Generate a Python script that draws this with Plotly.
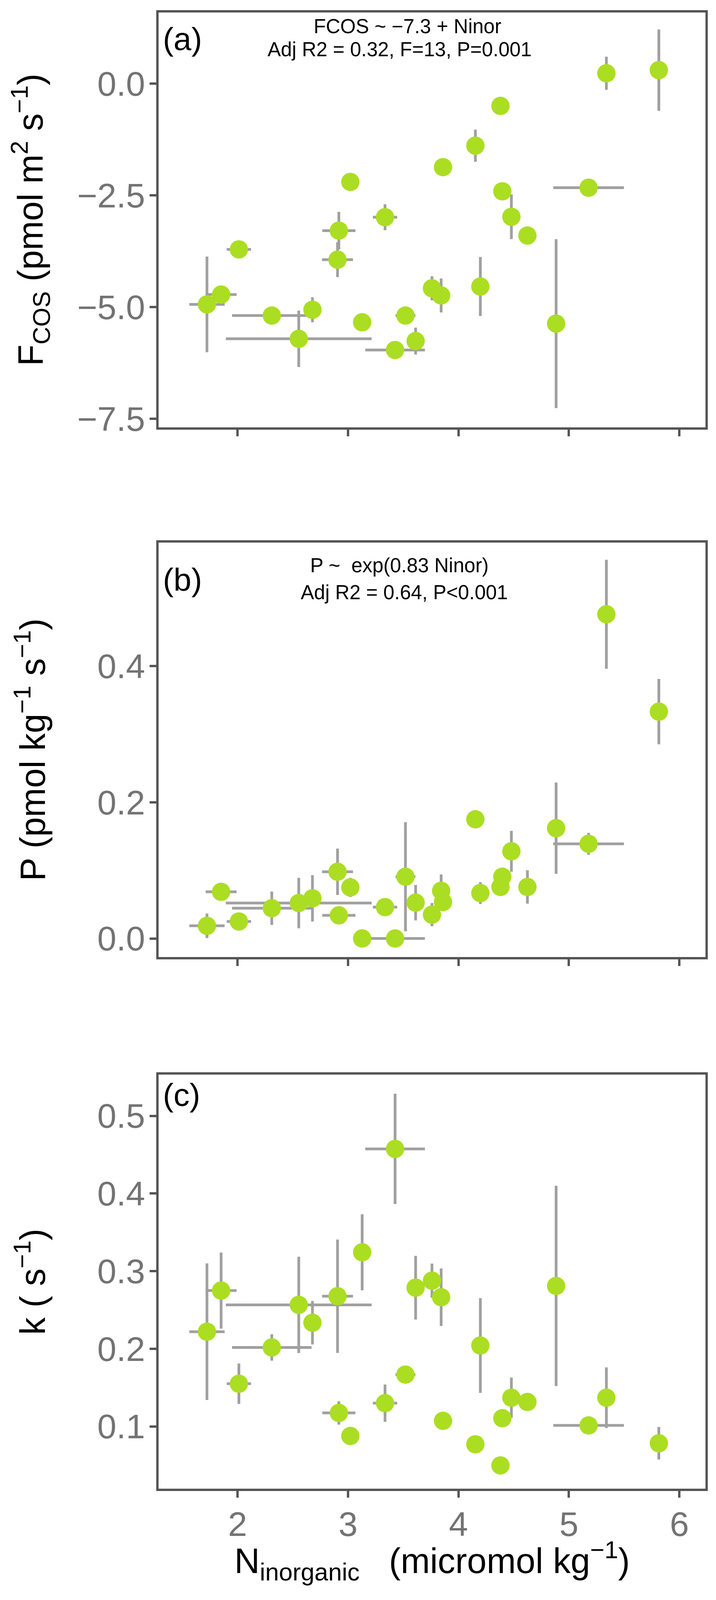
import plotly.graph_objects as go
from plotly.subplots import make_subplots

# the browser only shows 4096 px of the 4600 px page, so the layout is squeezed to fit
W = 1817
H = 4080
SY = 4096 / 4600
OFF = 8  # page body margin

# inorganic N per sample (micromol kg-1) and its error
n_inor = [1.723, 1.851, 2.012, 2.31, 2.554, 2.678, 2.905, 2.917, 3.021, 3.128, 3.335, 3.426, 3.52, 3.612,
          3.76, 3.843, 3.86, 4.153, 4.198, 4.38, 4.397, 4.479, 4.624, 4.884, 5.178, 5.339, 5.814]
n_err = [0.16, 0.14, 0.11, 0.36, 0.66, 0, 0.14, 0.15, 0.03, 0.05, 0.11, 0.27, 0.09, 0,
         0, 0, 0, 0, 0, 0, 0, 0, 0, 0, 0.32, 0, 0]

# (a) FCOS
fcos = [-4.94, -4.72, -3.71, -5.19, -5.71, -5.06, -3.94, -3.29, -2.20, -5.34, -2.99, -5.96, -5.19, -5.76,
        -4.58, -4.74, -1.87, -1.39, -4.54, -0.50, -2.41, -2.98, -3.40, -5.37, -2.33, 0.23, 0.30]
fcos_err = [1.07, 0, 0.1, 0, 0.63, 0.28, 0.39, 0.42, 0, 0.05, 0.29, 0, 0.05, 0.30,
            0.27, 0.38, 0, 0.36, 0.66, 0, 0, 0.5, 0, 1.89, 0, 0.37, 0.91]

# (b) P
prod = [0.0186, 0.0685, 0.025, 0.0444, 0.052, 0.059, 0.098, 0.034, 0.075, 0.0, 0.046, 0.0, 0.0907, 0.0526,
        0.035, 0.070, 0.0535, 0.175, 0.0667, 0.0757, 0.0907, 0.128, 0.0757, 0.162, 0.139, 0.476, 0.333]
prod_err = [0.018, 0, 0, 0.0245, 0.037, 0.034, 0.034, 0, 0.014, 0, 0, 0, 0.080, 0.026,
            0.017, 0.024, 0, 0, 0.016, 0, 0, 0.03, 0.0245, 0.067, 0.016, 0.080, 0.048]

# (c) k
kval = [0.222, 0.275, 0.155, 0.2017, 0.2566, 0.2336, 0.2677, 0.1174, 0.0877, 0.3243, 0.130, 0.4574, 0.1668, 0.2787,
        0.2877, 0.2664, 0.1072, 0.0770, 0.2042, 0.0498, 0.1106, 0.137, 0.1315, 0.281, 0.1013, 0.137, 0.0783]
k_err = [0.088, 0.049, 0.026, 0.017, 0.062, 0.028, 0.073, 0.015, 0, 0.049, 0.024, 0.071, 0, 0.041,
         0.022, 0.037, 0.005, 0, 0.061, 0, 0, 0.026, 0, 0.129, 0, 0.039, 0.021]

x_ticks = [2, 3, 4, 5, 6]
ya_ticks = [-7.5, -5.0, -2.5, 0.0]
yb_ticks = [0.0, 0.2, 0.4]
yc_ticks = [0.1, 0.2, 0.3, 0.4, 0.5]

PT = '#ABDE22'
ERR = '#A0A0A0'
AX = '#555555'
TICKTXT = '#737373'
FONT = 'Liberation Sans, Arial, sans-serif'


# positions below
def px(x):
    return (x - OFF) / W


def py(y):
    return 1 - (y * SY - OFF) / H


fig = make_subplots(rows=3, cols=1)

for i, (yv, ye) in enumerate([(fcos, fcos_err), (prod, prod_err), (kval, k_err)]):
    fig.add_trace(go.Scatter(
        x=n_inor, y=yv, mode='markers',
        marker=dict(size=47, color=PT),
        error_x=dict(type='data', array=n_err, color=ERR, thickness=7, width=0),
        error_y=dict(type='data', array=ye, color=ERR, thickness=7, width=0),
        showlegend=False), row=i + 1, col=1)

boxes = [(36, 1237), (1571, 2770), (3111, 4310)]
yranges = [[-7.69, 1.59], [-0.027, 0.581], [0.0196, 0.553]]
yticks = [ya_ticks, yb_ticks, yc_ticks]

axis_common = dict(showline=True, mirror=True, linecolor=AX, linewidth=6,
                   ticks='outside', ticklen=17, tickwidth=6, tickcolor=AX,
                   showgrid=False, zeroline=False,
                   tickfont=dict(size=88, color=TICKTXT, family=FONT))

for i in range(3):
    n = '' if i == 0 else str(i + 1)
    top, bot = boxes[i]
    fig.layout['xaxis' + n].update(domain=[px(406), px(1806)], range=[1.285, 6.236],
                                   tickvals=x_ticks, showticklabels=(i == 2),
                                   ticklabelstandoff=-8, **axis_common)
    fig.layout['yaxis' + n].update(domain=[py(bot), py(top)], range=yranges[i],
                                   tickvals=yticks[i], tickformat='.1f',
                                   ticklabelstandoff=-6, **axis_common)

ann = []
# y titles
ytitles = ['F<sub>COS</sub> (pmol m<sup>2</sup> s<sup>\u22121</sup>)',
           'P (pmol kg<sup>\u22121</sup> s<sup>\u22121</sup>)',
           'k ( s<sup>\u22121</sup>)']
for i, t in enumerate(ytitles):
    top, bot = boxes[i]
    ann.append(dict(text=t, x=px(78), y=py((top + bot) / 2), xref='paper', yref='paper',
                    xanchor='center', yanchor='middle', textangle=-90, showarrow=False,
                    font=dict(size=90, color='black', family=FONT)))

# panel letters
for t, yy in [('(a)', 113), ('(b)', 1677), ('(c)', 3169)]:
    ann.append(dict(text=t, x=px(415), y=py(yy), xref='paper', yref='paper',
                    xanchor='left', yanchor='middle', showarrow=False,
                    font=dict(size=82, color='black', family=FONT)))

# model text
for t, xx, yy in [('FCOS ~ \u22127.3 + Ninor', 1043, 76),
                  ('Adj R2 = 0.32, F=13, P=0.001', 1023, 143),
                  ('P ~  exp(0.83 Ninor)', 1023, 1637),
                  ('Adj R2 = 0.64, P<0.001', 1035, 1715)]:
    ann.append(dict(text=t, x=px(xx), y=py(yy), xref='paper', yref='paper',
                    xanchor='center', yanchor='middle', showarrow=False,
                    font=dict(size=51, color='black', family=FONT)))

# x title
ann.append(dict(text='N<sub>inorganic</sub>   (micromol kg<sup>\u22121</sup>)', x=px(1106), y=py(4518),
                xref='paper', yref='paper', xanchor='center', yanchor='middle', showarrow=False,
                font=dict(size=90, color='black', family=FONT)))

fig.update_layout(width=W, height=H, margin=dict(l=0, r=0, t=0, b=0),
                  plot_bgcolor='white', paper_bgcolor='white',
                  font=dict(family=FONT), annotations=ann)

fig.write_html("out.html")
